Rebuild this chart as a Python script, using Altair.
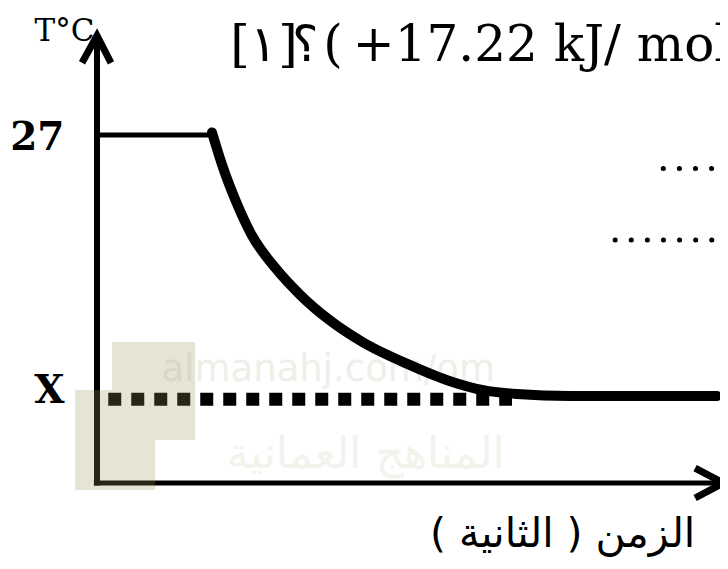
import altair as alt
import pandas as pd

# ---- data (time units, temperature units) ----
plateau_t = [0.0, 1.84]
plateau_T = [27.0, 27.0]

curve_t = [1.84, 2.00, 2.21, 2.48, 2.85, 3.25, 3.73, 4.26, 5.01, 5.65, 6.18, 6.72, 7.57, 9.92]
curve_T = [27.2, 24.7, 22.0, 19.2, 16.7, 14.6, 12.6, 10.9, 9.15, 7.9, 7.2, 6.9, 6.75, 6.75]

x_level_t = [0.18, 6.64]
x_level_T = 6.5

y_axis_t = 0.0
y_axis_T = [-0.2, 34.5]
y_arrow_t = [-0.24, 0.0, 0.224]
y_arrow_T = [32.6, 34.7, 32.6]

x_axis_t = [-0.05, 9.95]
x_axis_T = 0.0
x_arrow_t = [9.57, 10.02, 9.57]
x_arrow_T = [1.16, 0.0, -1.16]

tick_labels = ["27", "X"]
tick_label_T = [25.8, 6.2]
tick_label_t = -0.52

y_title = "T°C"
x_title = "\u200fالزمن ( الثانية )\u200f"
head_parts = ["[", "\u0661", "]", "\u061f", "(\u2009+17.22 kJ/ mol )"]
head_t = [2.13, 2.45, 2.9, 3.12, 3.62]
head_T = 32.7

blank_rows_t = [[9.06, 10.2], [8.29, 10.2]]
blank_rows_T = [24.4, 18.85]

wm_rect_t = [0.24, -0.35, 0.24]
wm_rect_t2 = [1.57, 0.24, 0.93]
wm_rect_T = [3.34, -0.54, -0.54]
wm_rect_T2 = [10.94, 7.21, 3.34]
wm_texts = ["almanahj.com/om", "المناهج العمانية"]
wm_text_t = [3.7, 4.3]
wm_text_T = [7.9, 1.2]

# ---- scales ----
xs = alt.Scale(domain=[-1.424, 9.968], nice=False, zero=False)
ys = alt.Scale(domain=[-6.05, 36.85], nice=False, zero=False)


def X(field="t"):
    return alt.X(f"{field}:Q", scale=xs, axis=None)


def Y(field="T"):
    return alt.Y(f"{field}:Q", scale=ys, axis=None)


# watermark texts (behind)
wm_df = pd.DataFrame({"t": wm_text_t, "T": wm_text_T, "label": wm_texts})
wm_text = alt.Chart(wm_df.iloc[[0]]).mark_text(
    font="DejaVu Sans", fontSize=37, color="#efeee8", align="center", baseline="alphabetic"
).encode(x=X(), y=Y(), text="label:N")
wm_text2 = alt.Chart(wm_df.iloc[[1]]).mark_text(
    font="DejaVu Sans", fontSize=44, color="#f3f2ec", align="center", baseline="alphabetic"
).encode(x=X(), y=Y(), text="label:N")

# axes
y_axis = alt.Chart(pd.DataFrame({"t": [y_axis_t], "T": [y_axis_T[0]], "T2": [y_axis_T[1]]})).mark_rule(
    strokeWidth=6, color="black", strokeCap="butt"
).encode(x=X(), y=Y(), y2="T2:Q")

y_arrow = alt.Chart(pd.DataFrame({"t": y_arrow_t, "T": y_arrow_T, "i": [0, 1, 2]})).mark_line(
    strokeWidth=7, color="black", strokeJoin="miter", strokeCap="butt"
).encode(x=X(), y=Y(), order="i:Q")

x_axis = alt.Chart(pd.DataFrame({"t": [x_axis_t[0]], "t2": [x_axis_t[1]], "T": [x_axis_T]})).mark_rule(
    strokeWidth=5, color="black", strokeCap="butt"
).encode(x=X(), x2="t2:Q", y=Y())

x_arrow = alt.Chart(pd.DataFrame({"t": x_arrow_t, "T": x_arrow_T, "i": [0, 1, 2]})).mark_line(
    strokeWidth=7, color="black", strokeJoin="miter", strokeCap="butt"
).encode(x=X(), y=Y(), order="i:Q")

# data lines
plateau = alt.Chart(pd.DataFrame({"t": plateau_t, "T": plateau_T})).mark_line(
    strokeWidth=5, color="black"
).encode(x=X(), y=Y())

curve = alt.Chart(pd.DataFrame({"t": curve_t, "T": curve_T})).mark_line(
    strokeWidth=10, color="black", interpolate="monotone", strokeCap="round"
).encode(x=X(), y=Y())

x_level = alt.Chart(pd.DataFrame({"t": [x_level_t[0]], "t2": [x_level_t[1]], "T": [x_level_T]})).mark_rule(
    strokeWidth=13, color="black", strokeDash=[13, 10], strokeCap="butt"
).encode(x=X(), x2="t2:Q", y=Y())

blank_df = pd.DataFrame({
    "t": [r[0] for r in blank_rows_t],
    "t2": [r[1] for r in blank_rows_t],
    "T": blank_rows_T,
})
blanks = alt.Chart(blank_df).mark_rule(
    strokeWidth=5, color="black", strokeDash=[0.1, 16], strokeCap="round"
).encode(x=X(), x2="t2:Q", y=Y())

# texts
ticks = alt.Chart(pd.DataFrame({"t": [tick_label_t] * 2, "T": tick_label_T, "label": tick_labels})).mark_text(
    font="DejaVu Serif", fontWeight="bold", fontSize=39, color="black", align="right", baseline="alphabetic"
).encode(x=X(), y=Y(), text="label:N")

ytitle = alt.Chart(pd.DataFrame({"t": [-0.04], "T": [34.3], "label": [y_title]})).mark_text(
    font="DejaVu Serif", fontSize=31, color="black", align="right", baseline="alphabetic"
).encode(x=X(), y=Y(), text="label:N")

xtitle = alt.Chart(pd.DataFrame({"t": [7.45], "T": [-5.0], "label": [x_title]})).mark_text(
    font="DejaVu Sans", fontSize=41, color="black", align="center", baseline="alphabetic"
).encode(x=X(), y=Y(), text="label:N")

head = alt.Chart(pd.DataFrame({"t": head_t, "T": [head_T] * len(head_t), "label": head_parts})).mark_text(
    font="DejaVu Serif", fontSize=50, color="black", align="left", baseline="alphabetic"
).encode(x=X(), y=Y(), text="label:N")

# watermark patch (on top, translucent)
wm_rects = alt.Chart(pd.DataFrame({"t": wm_rect_t, "t2": wm_rect_t2, "T": wm_rect_T, "T2": wm_rect_T2})).mark_rect(
    color="#9b9353", opacity=0.25
).encode(x=X(), x2="t2:Q", y=Y(), y2="T2:Q")

chart = alt.layer(
    wm_text, wm_text2, y_axis, y_arrow, x_axis, x_arrow, plateau, curve, x_level, blanks,
    ticks, ytitle, xtitle, head, wm_rects
).properties(
    width=712, height=553, autosize=alt.AutoSizeParams(type="none"), padding=0
).configure_view(strokeWidth=0)

chart.save("out.html", embed_options={"renderer": "svg", "actions": False})
